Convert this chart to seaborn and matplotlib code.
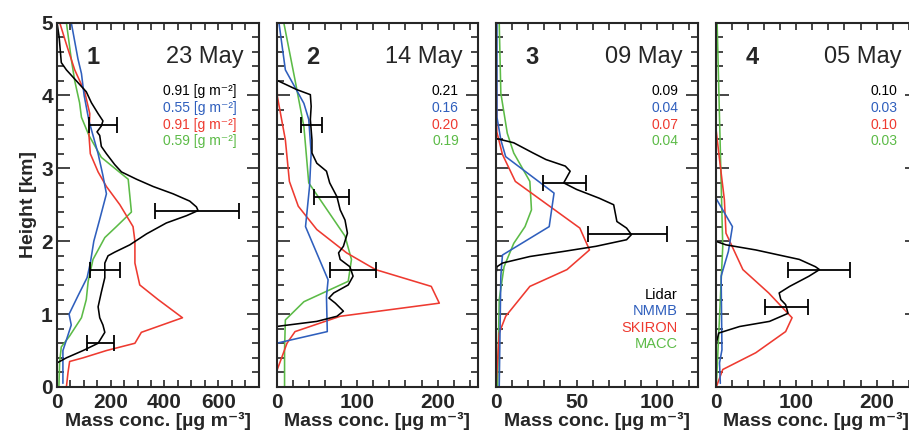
import numpy as np
import pandas as pd
import seaborn as sns
import matplotlib.pyplot as plt
from matplotlib.ticker import MultipleLocator

sns.set_style("ticks")
plt.rcParams["font.family"] = ["Liberation Sans", "DejaVu Sans"]

# ---- panel 1 : 23 May ----
lid1_c = [0, 8, 16, 35, 72, 109, 128, 153, 171, 165, 149, 159, 165, 184, 215, 240, 296, 358,
          432, 494, 519, 525, 482, 407, 333, 271, 215, 190, 178, 178, 165, 153, 159, 171, 178,
          153, 97, 35, 0]
lid1_h = [5.0, 4.8, 4.45, 4.35, 4.2, 4.05, 3.9, 3.75, 3.65, 3.58, 3.5, 3.45, 3.3, 3.2, 3.05,
          2.95, 2.85, 2.75, 2.65, 2.55, 2.47, 2.42, 2.35, 2.25, 2.1, 1.95, 1.85, 1.8, 1.7, 1.5,
          1.3, 1.1, 0.95, 0.85, 0.75, 0.6, 0.5, 0.4, 0.33]
nmmb1_c = [53, 78, 91, 101, 119, 153, 171, 184, 159, 137, 124, 112, 78, 45, 53, 31, 22, 22, 22]
nmmb1_h = [5.0, 4.5, 4.3, 4.0, 3.65, 3.2, 2.9, 2.65, 2.3, 2.0, 1.7, 1.5, 1.25, 1.0, 0.85, 0.6,
           0.5, 0.2, 0.05]
skir1_c = [10, 35, 66, 103, 122, 119, 124, 153, 184, 234, 283, 290, 290, 308, 376, 467, 314,
           290, 184, 97, 47, 41, 35]
skir1_h = [5.0, 4.7, 4.35, 4.05, 3.75, 3.45, 3.2, 2.95, 2.75, 2.5, 2.2, 2.0, 1.7, 1.4, 1.2,
           0.95, 0.75, 0.6, 0.5, 0.4, 0.35, 0.2, 0.0]
macc1_c = [35, 53, 66, 84, 91, 119, 165, 265, 277, 221, 178, 134, 116, 109, 91, 47, 16, 10, 7]
macc1_h = [5.0, 4.5, 4.2, 3.9, 3.7, 3.45, 3.15, 2.85, 2.4, 2.2, 2.05, 1.75, 1.45, 1.2, 0.95,
           0.7, 0.55, 0.35, 0.0]
err1_h = [3.6, 2.42, 1.6, 0.6]
err1_lo = [119, 365, 124, 113]
err1_hi = [224, 678, 236, 212]

# ---- panel 2 : 14 May ----
lid2_c = [0, 25, 42, 43, 42, 44, 44, 50, 62, 66, 75, 79, 85, 88, 83, 77, 79, 91, 95, 89, 71,
          65, 73, 83, 75, 50, 0]
lid2_h = [4.21, 4.08, 4.01, 3.85, 3.67, 3.39, 3.21, 3.07, 2.96, 2.8, 2.61, 2.43, 2.29, 2.11,
          1.93, 1.84, 1.75, 1.65, 1.52, 1.4, 1.29, 1.22, 1.15, 1.04, 0.97, 0.9, 0.83]
nmmb2_c = [3, 11, 34, 40, 43, 41, 36, 64, 62, 63, 0, 0]
nmmb2_h = [5.0, 4.35, 3.89, 3.67, 3.21, 2.75, 2.2, 1.47, 1.24, 0.76, 0.6, 0.0]
skir2_c = [0, 1, 11, 16, 27, 50, 87, 123, 192, 202, 79, 23, 13, 0, 0]
skir2_h = [5.0, 3.99, 3.39, 2.82, 2.48, 2.16, 1.84, 1.61, 1.38, 1.15, 0.97, 0.76, 0.6, 0.21, 0.0]
macc2_c = [9, 23, 34, 40, 85, 93, 89, 34, 11, 10, 10]
macc2_h = [5.0, 4.21, 3.57, 2.8, 2.07, 1.75, 1.45, 1.17, 0.92, 0.51, 0.0]
err2_h = [3.6, 2.6, 1.6]
err2_lo = [30, 47, 66]
err2_hi = [57, 90, 123]

# ---- panel 3 : 09 May ----
lid3_c = [0, 11, 23, 31, 43, 46, 42, 50, 64, 73, 75, 81, 84, 81, 62, 42, 21, 4, 0.6, 0]
lid3_h = [3.41, 3.35, 3.21, 3.12, 3.03, 2.96, 2.8, 2.71, 2.59, 2.5, 2.27, 2.18, 2.09, 2.02,
          1.93, 1.86, 1.79, 1.7, 1.65, 1.55]
nmmb3_c = [0.6, 0.6, 3, 6, 36, 33, 4, 3, 2]
nmmb3_h = [5.0, 3.7, 3.39, 3.16, 2.66, 2.2, 1.81, 1.52, 0.0]
skir3_c = [0, 0.5, 4, 12, 52, 58, 44, 21, 6, 2, 0]
skir3_h = [5.0, 3.5, 3.19, 2.82, 2.18, 1.88, 1.61, 1.38, 0.97, 0.74, 0.0]
macc3_c = [2, 3, 7, 11, 21, 22, 18, 11, 5, 2, 1]
macc3_h = [5.0, 4.03, 3.48, 3.21, 2.82, 2.43, 2.2, 1.97, 1.65, 1.2, 0.0]
err3_h = [2.8, 2.1]
err3_lo = [29, 57]
err3_hi = [56, 106]

# ---- panel 4 : 05 May ----
lid4_c = [0, 0, 13, 50, 79, 104, 124, 129, 116, 92, 79, 81, 87, 90, 67, 30, 4, 1, 0]
lid4_h = [5.0, 2.0, 1.95, 1.88, 1.81, 1.75, 1.65, 1.61, 1.52, 1.38, 1.29, 1.2, 1.13, 1.01,
          0.9, 0.83, 0.74, 0.6, 0.3]
nmmb4_c = [0, 0, 21, 16, 7, 8, 5, 6]
nmmb4_h = [5.0, 2.6, 2.2, 1.86, 1.52, 0.51, 0.33, 0.05]
skir4_c = [0, 0, 5, 11, 13, 34, 66, 95, 87, 50, 9, 1]
skir4_h = [5.0, 3.6, 3.12, 2.57, 2.11, 1.61, 1.29, 0.95, 0.76, 0.47, 0.24, 0.0]
macc4_c = [2, 9, 1]
macc4_h = [5.0, 1.93, 0.0]
err4_h = [1.6, 1.1]
err4_lo = [90, 62]
err4_hi = [167, 115]

panel_ids = ["1", "2", "3", "4"]
dates = ["23 May", "14 May", "09 May", "05 May"]
aod_lidar = ["0.91 [g m⁻²]", "0.21", "0.09", "0.10"]
aod_nmmb = ["0.55 [g m⁻²]", "0.16", "0.04", "0.03"]
aod_skiron = ["0.91 [g m⁻²]", "0.20", "0.07", "0.10"]
aod_macc = ["0.59 [g m⁻²]", "0.19", "0.04", "0.03"]
xmax = [750, 250, 125, 250]
xmajor = [200, 100, 50, 100]
xminor = [50, 20, 10, 20]
model_names = ["Lidar", "NMMB", "SKIRON", "MACC"]

colors = {"Lidar": "black", "NMMB": "#2f5fbd", "SKIRON": "#ee3a30", "MACC": "#5cbb47"}

panels = [
    [(lid1_c, lid1_h), (nmmb1_c, nmmb1_h), (skir1_c, skir1_h), (macc1_c, macc1_h),
     (err1_h, err1_lo, err1_hi)],
    [(lid2_c, lid2_h), (nmmb2_c, nmmb2_h), (skir2_c, skir2_h), (macc2_c, macc2_h),
     (err2_h, err2_lo, err2_hi)],
    [(lid3_c, lid3_h), (nmmb3_c, nmmb3_h), (skir3_c, skir3_h), (macc3_c, macc3_h),
     (err3_h, err3_lo, err3_hi)],
    [(lid4_c, lid4_h), (nmmb4_c, nmmb4_h), (skir4_c, skir4_h), (macc4_c, macc4_h),
     (err4_h, err4_lo, err4_hi)],
]

W, H = 909, 437
fig = plt.figure(figsize=(W / 100, H / 100), dpi=100)

for i, pdata in enumerate(panels):
    left = 57 + 219.5 * i
    ax = fig.add_axes([left / W, 50 / H, 201.5 / W, 364.5 / H])

    # model lines first, lidar on top
    for k in [3, 2, 1, 0]:
        c, h = pdata[k]
        df = pd.DataFrame({"conc": c, "height": h})
        sns.lineplot(data=df, x="conc", y="height", sort=False, estimator=None,
                     color=colors[model_names[k]], lw=1.15, ax=ax)

    eh, elo, ehi = pdata[4]
    eh = np.array(eh)
    elo = np.array(elo)
    ehi = np.array(ehi)
    mid = (elo + ehi) / 2
    ax.errorbar(mid, eh, xerr=[mid - elo, ehi - mid], fmt="none", ecolor="black",
                elinewidth=1.3, capsize=5.5, capthick=1.3)

    ax.set_xlim(0, xmax[i])
    ax.set_ylim(0, 5)
    ax.xaxis.set_major_locator(MultipleLocator(xmajor[i]))
    ax.xaxis.set_minor_locator(MultipleLocator(xminor[i]))
    ax.yaxis.set_major_locator(MultipleLocator(1))
    ax.yaxis.set_minor_locator(MultipleLocator(0.2))
    ax.tick_params(which="both", direction="in", top=True, right=True, width=1.2,
                   labelsize=15)
    ax.tick_params(axis="y", which="major", length=9, pad=3)
    ax.tick_params(axis="y", which="minor", length=5)
    ax.tick_params(axis="x", which="both", length=5, pad=4)
    for lab in ax.get_xticklabels() + ax.get_yticklabels():
        lab.set_fontweight("bold")
    for sp in ax.spines.values():
        sp.set_linewidth(1.5)
        sp.set_visible(True)

    ax.set_xlabel("Mass conc. [µg m⁻³]", fontsize=14, fontweight="bold", labelpad=0)
    if i == 0:
        ax.set_ylabel("Height [km]", fontsize=14, fontweight="bold", labelpad=3)
    else:
        ax.set_ylabel("")
        ax.set_yticklabels([])

    ax.text(0.18, 0.905, panel_ids[i], transform=ax.transAxes, fontsize=17,
            fontweight="bold", ha="center", va="center")
    ax.text(0.925, 0.905, dates[i], transform=ax.transAxes, fontsize=17,
            ha="right", va="center")
    vals = [aod_lidar[i], aod_nmmb[i], aod_skiron[i], aod_macc[i]]
    xr = 0.89 if i == 0 else 0.905
    for k, v in enumerate(vals):
        ax.text(xr, 0.812 - 0.046 * k, v, transform=ax.transAxes, fontsize=10,
                color=colors[model_names[k]], ha="right", va="center")

    if i == 2:
        for k, name in enumerate(model_names):
            ax.text(0.9, 0.253 - 0.045 * k, name, transform=ax.transAxes, fontsize=10.5,
                    color=colors[name], ha="right", va="center")

fig.savefig("out.png", dpi=100)
